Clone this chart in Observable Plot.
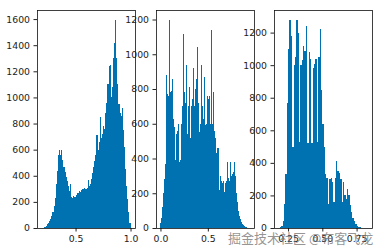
<!DOCTYPE html>
<html><head><meta charset="utf-8">
<script src="https://cdn.jsdelivr.net/npm/d3@7"></script>
<script src="https://cdn.jsdelivr.net/npm/@observablehq/plot@0.6"></script>
<style>
body{margin:0;background:#fff;}
#fig{position:relative;width:385px;height:251px;overflow:hidden;background:#fff;}
#fig svg{position:absolute;top:0;max-width:none;}
#wm{position:absolute;left:228px;top:229px;font-size:13px;font-family:"Noto Sans CJK SC";color:rgba(120,120,120,0.8);white-space:nowrap;line-height:18px;}
</style></head><body>
<div id="fig"><div id="wm"></div></div>
<script>
const binWidth = 0.01;
const start1 = 0.19;
const counts1 = [1,2,5,10,18,28,40,55,70,95,125,170,230,340,440,560,595,560,595,520,470,430,390,360,320,285,340,240,230,245,240,255,265,270,285,275,290,300,295,310,300,305,365,320,340,375,420,470,510,560,710,600,660,850,690,720,780,760,880,960,1100,1240,1250,1000,1080,1300,1420,1590,1300,1100,950,880,860,920,750,620,450,320,220,120,40];
const start2 = 0.00;
const counts2 = [30,60,120,200,280,370,880,770,760,1195,780,790,860,630,580,390,540,560,390,600,380,390,600,700,1115,780,720,940,540,700,810,520,700,740,920,700,800,1190,860,1040,720,550,600,940,700,630,870,590,600,760,740,760,600,1140,600,780,600,560,520,430,460,460,220,300,270,260,270,210,260,270,380,290,270,380,300,440,310,320,380,300,200,150,100,70,50,35,25,15,10,6,4,2,1,1];
const start3 = 0.18;
const counts3 = [2,5,10,40,150,330,770,1100,1275,1180,500,1000,1050,1275,1200,530,1000,1030,1120,1090,1240,520,1080,1040,520,980,1010,1040,530,1050,1225,850,640,500,330,310,150,300,310,280,160,310,410,350,340,300,160,280,200,180,240,200,140,100,60,40,25,15,8,5,3,2,1,1,1];
const yTicks1 = [0,200,400,600,800,1000,1200,1400,1600];
const yTicks2 = [0,200,400,600,800,1000,1200];
const yTicks3 = [0,200,400,600,800,1000,1200];
const xTicks1 = [0.5,1.0];
const xTicks2 = [0.0,0.5];
const xTicks3 = [0.25,0.5,0.75];
const watermark = "掘金技术社区 @布客飞龙";

function bins(start, counts) {
  return counts.map((c, i) => ({x1: start + i * binWidth, x2: start + (i + 1) * binWidth, count: c}));
}
const fig = document.getElementById("fig");
function panel(start, counts, xTicks, xFmt, yTicks, left) {
  const data = bins(start, counts);
  const lo = data[0].x1, hi = data[data.length - 1].x2, pad = 0.05 * (hi - lo);
  const ymax = d3.max(data, d => d.count) * 1.05;
  const svg = Plot.plot({
    width: 139, height: 251,
    marginLeft: 37, marginRight: 4, marginTop: 10, marginBottom: 23,
    style: {background: "transparent", fontFamily: "DejaVu Sans", fontSize: "9.3px", color: "#222", overflow: "visible"},
    x: {domain: [lo - pad, hi + pad], ticks: xTicks, tickFormat: d3.format(xFmt), tickSize: 3.5, tickPadding: 3, label: null},
    y: {domain: [0, ymax], ticks: yTicks, tickFormat: d3.format("d"), tickSize: 3.5, tickPadding: 4, label: null},
    marks: [
      Plot.rect(data, {x1: "x1", x2: "x2", y1: 0, y2: "count", fill: "#0072B2", shapeRendering: "crispEdges"}),
      Plot.frame({stroke: "#111", strokeWidth: 0.8})
    ]
  });
  svg.style.left = left + "px";
  fig.insertBefore(svg, document.getElementById("wm"));
}
panel(start1, counts1, xTicks1, ".1f", yTicks1, 0);
panel(start2, counts2, xTicks2, ".1f", yTicks2, 119);
panel(start3, counts3, xTicks3, ".2f", yTicks3, 237);
document.getElementById("wm").textContent = watermark;
</script>
</body></html>
